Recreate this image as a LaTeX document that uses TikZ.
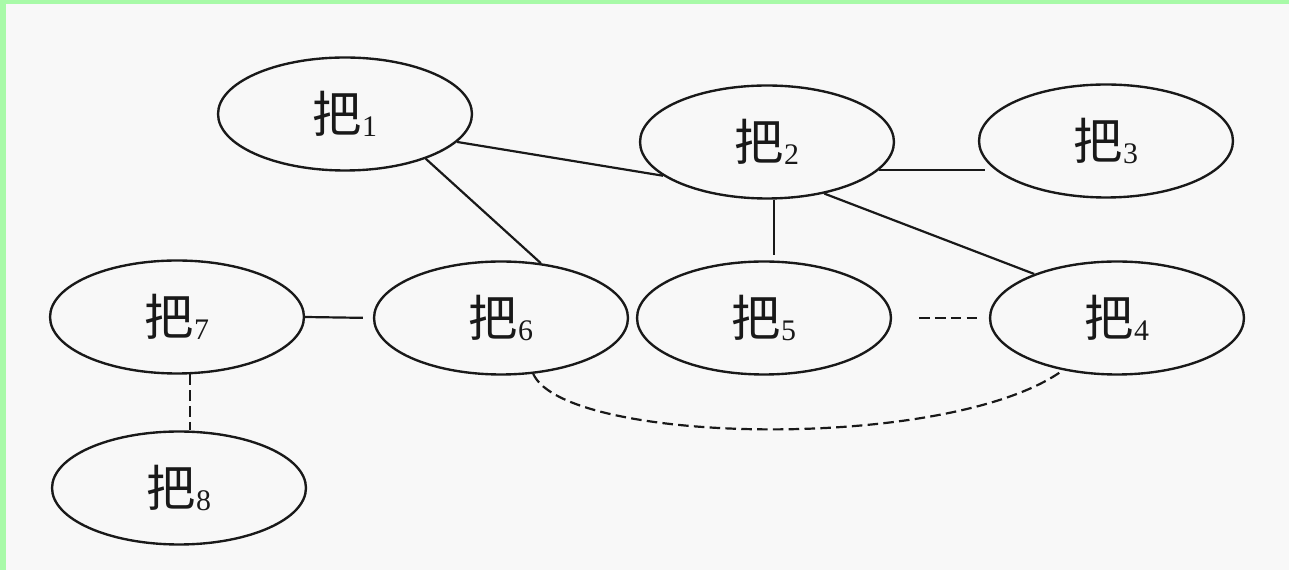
\documentclass[tikz,border=0pt]{standalone}
\usepackage{fontspec}
\setmainfont{Liberation Serif}
\newfontfamily\cjk{Noto Sans CJK SC}
\usetikzlibrary{shapes.geometric}
\definecolor{bordergreen}{RGB}{168,250,168}
\definecolor{paper}{RGB}{248,248,248}
\definecolor{ink}{RGB}{25,25,25}
\newcommand{\bazi}[1]{{\fontsize{28}{28}\selectfont\cjk 把}\raisebox{-2.5pt}{\fontsize{17}{17}\selectfont #1}}
\begin{document}
\begin{tikzpicture}[x=0.02cm,y=-0.02cm,
  elli/.style={ellipse, draw=ink, line width=1.35pt, minimum width=5.08cm, minimum height=2.26cm, inner sep=0pt, text=ink},
  link/.style={draw=ink, line width=1.25pt},
  dlink/.style={link, dash pattern=on 6pt off 3pt}]
\fill[paper] (0,0) rectangle (1289,570);
\fill[bordergreen] (0,0) rectangle (1289,4);
\fill[bordergreen] (0,0) rectangle (6,570);
\useasboundingbox (0,0) rectangle (1289,570);

\node[elli] (n1) at (345,114) {\bazi{1}};
\node[elli] (n2) at (767,142) {\bazi{2}};
\node[elli] (n3) at (1106,141) {\bazi{3}};
\node[elli] (n7) at (177,317) {\bazi{7}};
\node[elli] (n6) at (501,318) {\bazi{6}};
\node[elli] (n5) at (764,318) {\bazi{5}};
\node[elli] (n4) at (1117,318) {\bazi{4}};
\node[elli] (n8) at (179,488) {\bazi{8}};

\draw[link] (n1.-14.5) -- (n2.-162);
\draw[link] (n1.-29) -- (n6.54);
\draw[link, shorten >=0.18cm] (n2.-14) -- (n2.-14 -| n3.-166);
\draw[link, shorten >=0.1cm] (n2.-83) -- (n2.-83 |- n5.north);
\draw[link] (n2.-42) -- (n4.152);
\draw[link, shorten >=0.2cm] (n7.east) -- (n6.west);
\draw[dlink] (n7.-77.6) -- (n7.-77.6 |- n8.north);
\draw[dlink, shorten <=0.54cm, shorten >=0.22cm] (n5.east) -- (n4.west);
\draw[dlink] (n6.-60) .. controls (565,445) and (950,452) .. (n4.-136);
\end{tikzpicture}
\end{document}
